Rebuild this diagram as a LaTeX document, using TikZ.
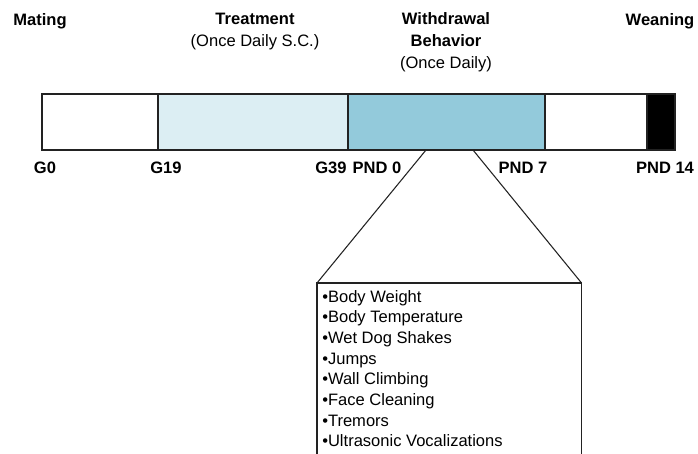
\documentclass[tikz,border=0pt]{standalone}
\usepackage{fontspec}
\setmainfont{Liberation Sans}
\usetikzlibrary{positioning}
\definecolor{TrtFill}{HTML}{DCEEF3}
\definecolor{WdrFill}{HTML}{93CADB}
\definecolor{LineGray}{HTML}{222222}
\tikzset{
  every picture/.append style={font=\fontsize{12.4}{16.5}\selectfont},
  seg/.style={draw=LineGray, line width=0.9pt},
  tick/.style={font=\fontsize{12.4}{15}\selectfont\bfseries, inner sep=0pt},
  phase/.style={align=center, inner sep=0pt, anchor=north},
  box/.style={inner sep=0pt},
  items/.style={align=left, inner sep=0pt, font=\fontsize{12.4}{15.5}\selectfont},
  zoomline/.style={draw=LineGray, line width=0.8pt},
}
\begin{document}
\begin{tikzpicture}[x=0.75pt, y=-0.75pt]
\useasboundingbox (0,0) rectangle (698,453);

% timeline boundaries
\coordinate (bG0) at (42,94);
\coordinate (bG19) at (158,94);
\coordinate (bPND0) at (348,94);
\coordinate (bPND7) at (545,94);
\coordinate (bWean) at (647,94);
\coordinate (bEnd) at (675,150);

% bar segments
\draw[seg] (bG0) rectangle (158,150);
\draw[seg, fill=TrtFill] (bG19) rectangle (348,150);
\draw[seg, fill=WdrFill] (bPND0) rectangle (545,150);
\draw[seg] (bPND7) rectangle (647,150);
\draw[seg, fill=black] (bWean) rectangle (bEnd);

% phase labels
\node[phase] (mating) at (40,13) {\bfseries Mating};
\node[phase] (treat) at (255,13) {\bfseries Treatment\\(Once Daily S.C.)};
\node[phase] (withdr) at (446,12) {\bfseries Withdrawal\\\bfseries Behavior\\(Once Daily)};
\node[phase] (wean) at (660,13) {\bfseries Weaning};

% day labels
\node[tick] (tG0) at (45,168) {G0};
\node[tick] (tG19) at (166,168) {G19};
\node[tick] (tG39) at (331,168) {G39};
\node[tick] (tPND0) at (377,168) {PND 0};
\node[tick] (tPND7) at (523,168) {PND 7};
\node[tick] (tPND14) at (665,168) {PND 14};

% expanded measures box
\node[box, anchor=north west, minimum width=198pt, minimum height=127.5pt] (mbox) at (317,283) {};
\node[items, anchor=north west] (measures) at ([shift={(5,7)}]mbox.north west)
  {\textbullet Body Weight\\
   \textbullet Body Temperature\\
   \textbullet Wet Dog Shakes\\
   \textbullet Jumps\\
   \textbullet Wall Climbing\\
   \textbullet Face Cleaning\\
   \textbullet Tremors\\
   \textbullet Ultrasonic Vocalizations};
\draw[zoomline] (mbox.south west) -- (mbox.north west) -- (mbox.north east) -- (mbox.south east);

% zoom connectors
\coordinate (zL) at (426,150);
\coordinate (zR) at (473,150);
\draw[zoomline] (zL) -- (mbox.north west);
\draw[zoomline] (zR) -- (mbox.north east);

\end{tikzpicture}
\end{document}
